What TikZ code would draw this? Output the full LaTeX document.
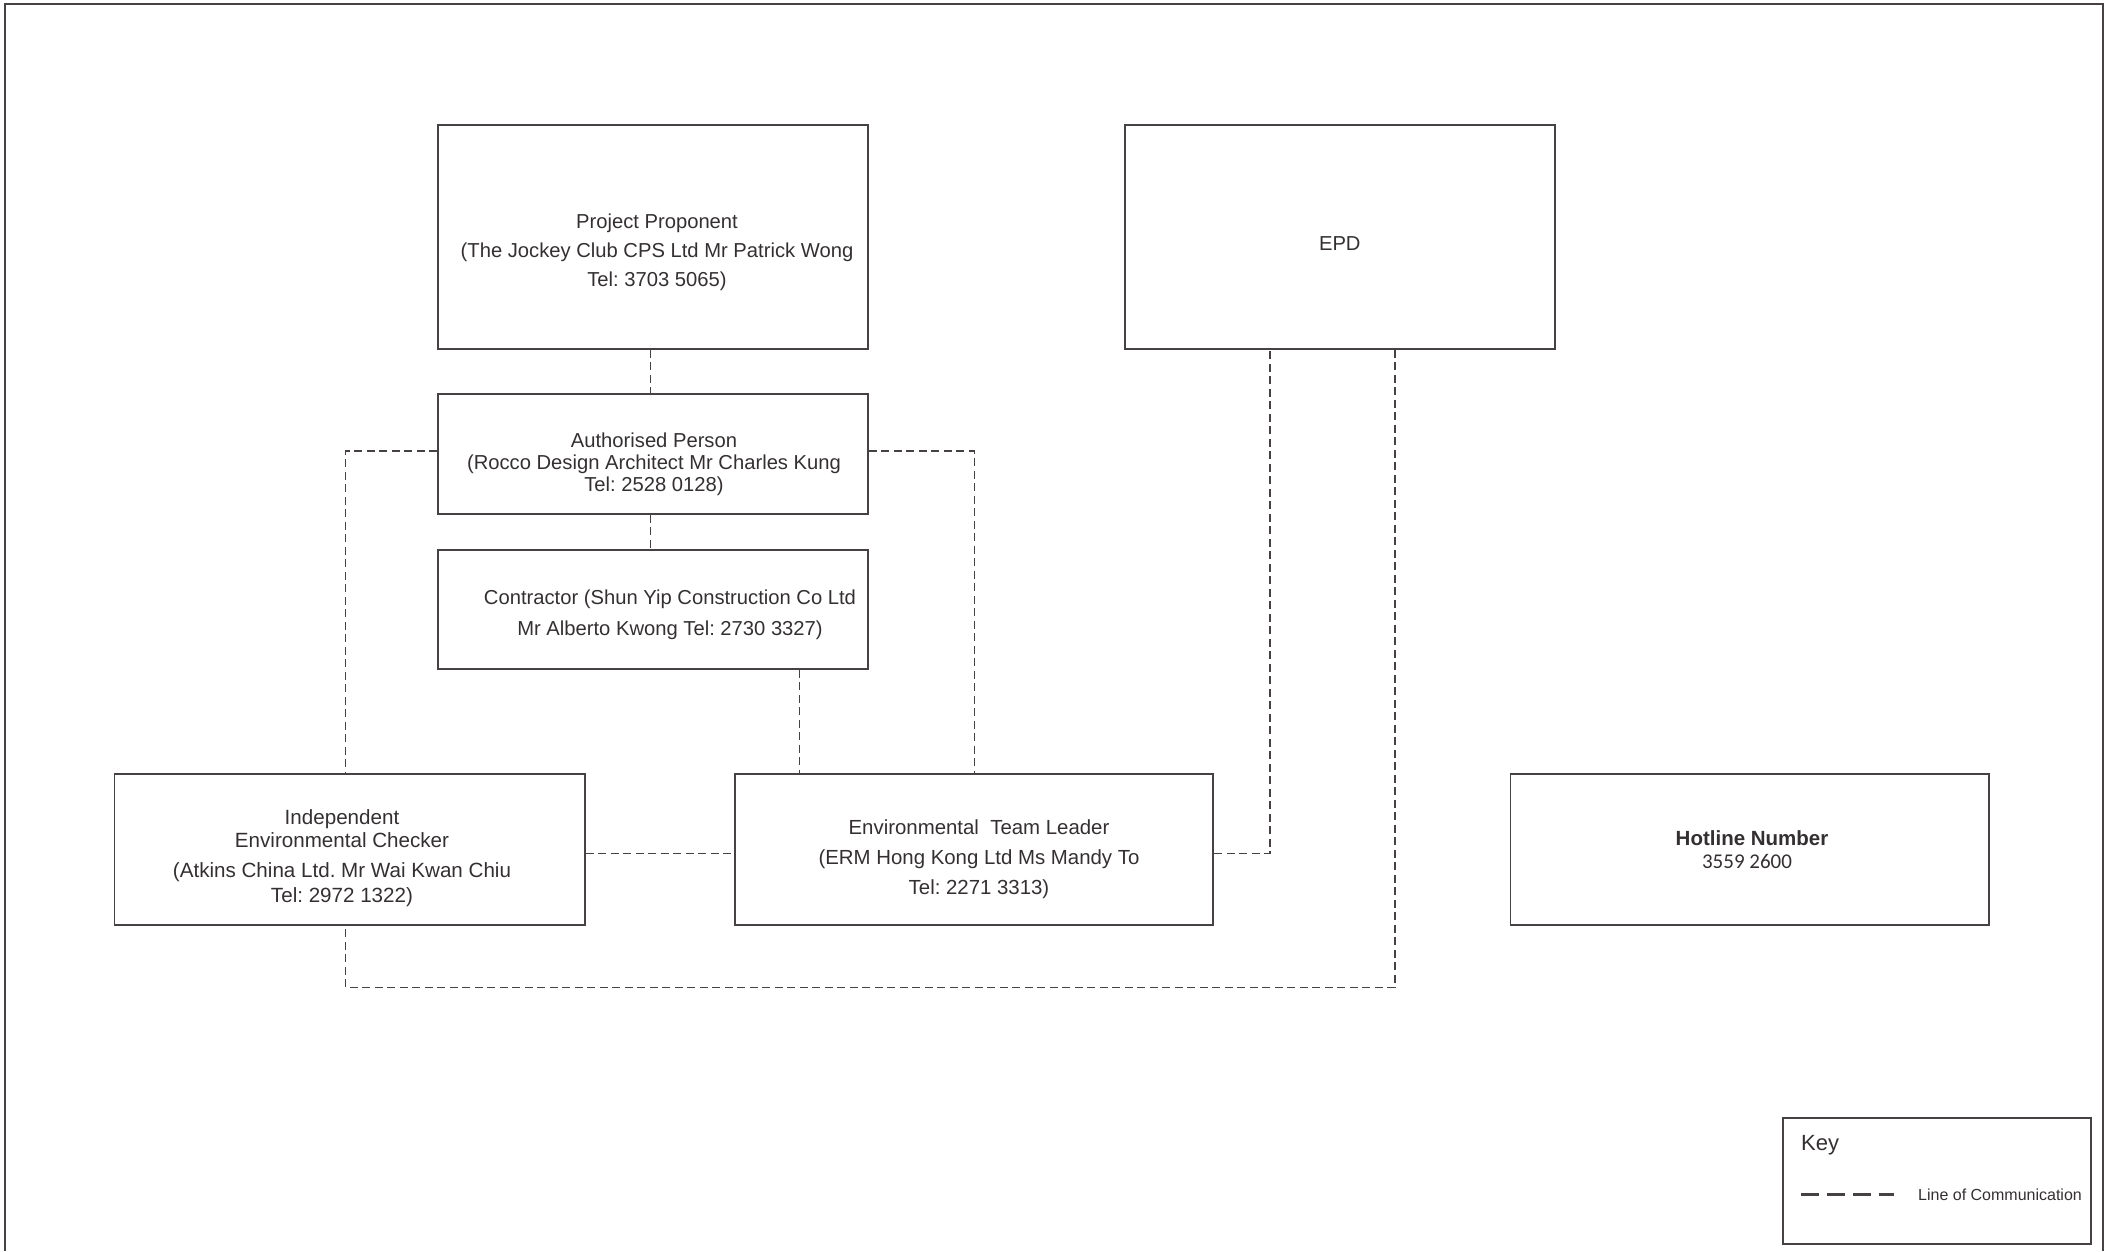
\documentclass[tikz,border=0pt]{standalone}
\usepackage{fontspec}
\setmainfont{Liberation Sans}
\newfontfamily\numfont{Carlito}
\definecolor{ink}{RGB}{52,48,49}
\definecolor{frame}{RGB}{70,66,67}
\frenchspacing
\begin{document}
\begin{tikzpicture}[x=1pt,y=-1pt,
  box/.style={draw=frame,line width=1.8pt,rectangle,inner sep=0pt},
  txt/.style={inner sep=0pt,align=center,text=ink},
  comm/.style={draw=frame,line width=1.5pt,dash pattern=on 8pt off 4.5pt},
  keyline/.style={draw=frame,line width=2.4pt,dash pattern=on 18pt off 8pt}]
\useasboundingbox (0,0) rectangle (2107,1251);
% outer frame
\draw[frame,line width=2pt] (4.5,1251) -- (4.5,4) -- (2103,4) -- (2103,1251);

% boxes
\node[box,minimum width=430pt,minimum height=224pt] (pp) at (653,237) {};
\node[box,minimum width=430pt,minimum height=120pt] (ap) at (653,454) {};
\node[box,minimum width=430pt,minimum height=119.4pt] (ct) at (653,609.3) {};
\node[box,minimum width=430pt,minimum height=224pt] (epd) at (1339.8,237) {};
\node[box,minimum width=470.2pt,minimum height=150.6pt] (iec) at (349.6,849.3) {};
\node[box,minimum width=478.7pt,minimum height=150.6pt] (etl) at (974,849.3) {};
\node[box,minimum width=478.6pt,minimum height=150.6pt] (hot) at (1749.7,849.3) {};
\node[box,minimum width=308pt,minimum height=126pt] (key) at (1937,1181) {};

% texts
\node[txt,font=\fontsize{20.2}{29}\selectfont] (ppt) at (657,251.8)
  {Project Proponent\\(The Jockey Club CPS Ltd Mr Patrick Wong\\Tel: 3703 5065)};
\node[txt,font=\fontsize{20.2}{22.2}\selectfont] (apt) at (654,464.3)
  {Authorised Person\\(Rocco Design Architect Mr Charles Kung\\Tel: 2528 0128)};
\node[txt,font=\fontsize{20.2}{31}\selectfont] (ctt) at (670,614.8)
  {Contractor (Shun Yip Construction Co Ltd\\Mr Alberto Kwong Tel: 2730 3327)};
\node[txt,font=\fontsize{20.2}{24}\selectfont] (epdt) at (1339.8,244) {EPD};
\node[txt,font=\fontsize{20.6}{23}\selectfont] (iect) at (342,858.3)
  {Independent\\Environmental Checker\\[6.6pt](Atkins China Ltd. Mr Wai Kwan Chiu\\[2.5pt]Tel: 2972 1322)};
\node[txt,font=\fontsize{20.4}{30}\selectfont] (etlt) at (979,858.8)
  {Environmental\ \ Team Leader\\(ERM Hong Kong Ltd Ms Mandy To\\Tel: 2271 3313)};
\node[txt,font=\fontsize{20.5}{23}\selectfont\bfseries] (hott) at (1752,838.3) {Hotline Number};
\node[txt,font=\fontsize{21}{23}\selectfont\numfont] (hotn) at (1747,861.7) {3559 2600};
\node[txt,anchor=west,font=\fontsize{22}{24}\selectfont] (keyt) at (1801,1145) {Key};
\node[txt,anchor=west,font=\fontsize{16}{18}\selectfont] (lct) at (1918,1194.5) {Line of Communication};
\coordinate (k1) at (1801,1194.3);
\coordinate (k2) at (1894,1194.3);
\draw[keyline] (k1) -- (k2);

% connector corners
\coordinate (cL) at (345.4,451);
\coordinate (cR) at (974.3,451);
\coordinate (cC) at (799.3,0);
\coordinate (cT) at (650.4,0);
\coordinate (cM) at (0,853.3);
\coordinate (cE) at (1270,853.3);
\coordinate (cB1) at (1395,987.5);
\coordinate (cB2) at (345.4,987.5);

% connectors
\draw[comm] (pp.south -| cT) -- (ap.north -| cT);
\draw[comm] (ap.south -| cT) -- (ct.north -| cT);
\draw[comm] (ap.west |- cL) -- (cL) -- (iec.north -| cL);
\draw[comm] (ap.east |- cR) -- (cR) -- (etl.north -| cR);
\draw[comm] (ct.south -| cC) -- (etl.north -| cC);
\draw[comm] (iec.east |- cM) -- (etl.west |- cM);
\draw[comm] (etl.east |- cE) -- (cE) -- (epd.south -| cE);
\draw[comm] (epd.south -| cB1) -- (cB1) -- (cB2) -- (iec.south -| cB2);
\end{tikzpicture}
\end{document}
